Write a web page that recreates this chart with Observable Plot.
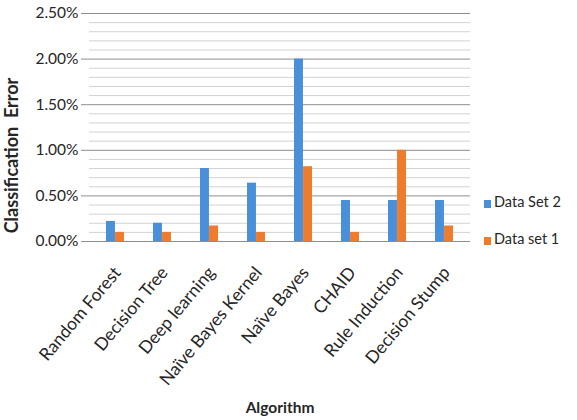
<!DOCTYPE html>
<html>
<head>
<meta charset="utf-8">
<script src="https://cdn.jsdelivr.net/npm/d3@7"></script>
<script src="https://cdn.jsdelivr.net/npm/@observablehq/plot@0.6"></script>
<style>
  body { margin: 0; background: #fff; }
  #chart { position: relative; width: 577px; height: 420px; font-family: Lato, "Open Sans", sans-serif; color: #262626; }
  #chart svg { position: absolute; left: 0; top: 0; }
  .legend { position: absolute; left: 484px; font-size: 14.5px; line-height: 14px; white-space: nowrap; }
  .legend span.sw { display: inline-block; width: 7px; height: 8px; margin-right: 3px; vertical-align: -1px; }
</style>
</head>
<body>
<div id="chart"></div>
<script>
// Classification error (%) per algorithm for the two data sets
const algorithms = ["Random Forest", "Decision Tree", "Deep learning", "Naïve Bayes Kernel", "Naïve Bayes", "CHAID", "Rule Induction", "Decision Stump"];
const dataSet2 = [0.22, 0.20, 0.80, 0.64, 2.00, 0.45, 0.45, 0.45];
const dataSet1 = [0.10, 0.10, 0.17, 0.10, 0.82, 0.10, 1.00, 0.17];
const seriesNames = ["Data Set 2", "Data set 1"];
const seriesColors = ["#4a8fd9", "#ef7b2c"];
const majorTicks = [0, 0.5, 1.0, 1.5, 2.0, 2.5];
const minorTicks = [0.1, 0.2, 0.3, 0.4, 0.6, 0.7, 0.8, 0.9, 1.1, 1.2, 1.3, 1.4, 1.6, 1.7, 1.8, 1.9, 2.1, 2.2, 2.3, 2.4];
const xTitle = "Algorithm";
const yTitle = "Classification\u00a0\u00a0Error";

const rows = algorithms.map((a, i) => ({algorithm: a, s2: dataSet2[i], s1: dataSet1[i]}));

const W = 577, H = 420, mL = 89, mR = 107, mT = 13, mB = 179;
const bandPad = 0.62;
const halfBand = (W - mL - mR) / algorithms.length * (1 - bandPad) / 2;

const chart = Plot.plot({
  width: W, height: H,
  marginLeft: mL, marginRight: mR, marginTop: mT, marginBottom: mB,
  style: {fontFamily: "Lato, 'Open Sans', sans-serif", fontSize: "15px", color: "#262626", background: "transparent", overflow: "visible"},
  x: {domain: algorithms, paddingInner: bandPad, paddingOuter: bandPad / 2},
  y: {domain: [0, 2.5]},
  marks: [
    Plot.ruleY(minorTicks, {stroke: "#d2d2d2", strokeWidth: 1}),
    Plot.ruleY(majorTicks, {stroke: "#8e8e8e", strokeWidth: 1}),
    Plot.barY(rows, {x: "algorithm", y: "s2", fill: seriesColors[0], insetRight: halfBand}),
    Plot.barY(rows, {x: "algorithm", y: "s1", fill: seriesColors[1], insetLeft: halfBand}),
    Plot.axisY({ticks: majorTicks, tickFormat: d => d.toFixed(2) + "%", tickSize: 8, stroke: "#8e8e8e", strokeOpacity: 1, tickPadding: 3, label: null, fontSize: 15.5}),
    Plot.axisX({tickSize: 0, tickRotate: -50, tickPadding: 6, label: null, fontSize: 17.5, letterSpacing: "0.2px", dx: 2, dy: 22}),
    Plot.text([xTitle], {frameAnchor: "bottom", dy: 171, fontWeight: "bold", fontSize: 15.5}),
    Plot.text([yTitle], {frameAnchor: "left", textAnchor: "middle", dx: -77, dy: 28, rotate: -90, fontWeight: "bold", fontSize: 18, letterSpacing: "0.9px"})
  ]
});
document.getElementById("chart").appendChild(chart);

// legend at the right of the plot area
const legendTops = [195, 232];
seriesNames.forEach((name, i) => {
  const div = document.createElement("div");
  div.className = "legend";
  div.style.top = legendTops[i] + "px";
  div.innerHTML = `<span class="sw" style="background:${seriesColors[i]}"></span>${name}`;
  document.getElementById("chart").appendChild(div);
});
</script>
</body>
</html>
